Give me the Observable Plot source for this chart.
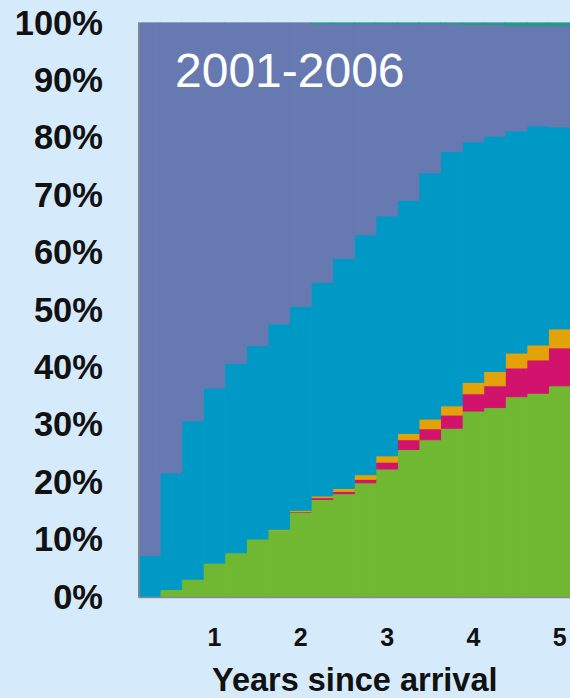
<!DOCTYPE html>
<html><head><meta charset="utf-8">
<script src="https://cdn.jsdelivr.net/npm/d3@7"></script>
<script src="https://cdn.jsdelivr.net/npm/@observablehq/plot@0.6"></script>
<style>
html,body{margin:0;padding:0;background:#d5eafb;}
#chart svg{display:block;}
</style></head><body><div id="chart"></div>
<script>
// Quarters since arrival (1..20); x tick labels in years
const quarters = [1,2,3,4,5,6,7,8,9,10,11,12,13,14,15,16,17,18,19,20];
const xTickQuarters = [4,8,12,16,20];
const xTickLabels = ["1","2","3","4","5"];
const yTicks = [0,10,20,30,40,50,60,70,80,90,100];

// Series values (% share), bottom to top
const seriesNames = ["Series 1","Series 2","Series 3","Series 4","Series 5","Series 6"];
const s1 = [0,1.3,3.1,5.9,7.7,10.1,11.7,14.8,17.0,18.0,19.9,22.3,25.7,27.4,29.4,32.4,33.0,34.9,35.5,36.8];
const s2 = [0,0,0,0,0,0,0,0.1,0.3,0.4,0.6,1.2,1.7,1.9,2.3,3.0,3.8,5.0,5.8,6.6];
const s3 = [0,0,0,0,0,0,0.1,0.2,0.3,0.5,0.8,1.1,1.1,1.7,1.6,2.0,2.5,2.6,2.6,3.3];
const s4 = [7.2,20.3,27.6,30.5,33.0,33.7,35.8,35.5,37.2,40.1,41.8,41.8,40.6,42.9,44.3,41.9,41.0,38.7,38.2,35.2];
const s5 = [92.8,78.4,69.3,63.6,59.3,56.2,52.4,49.4,45.1,40.9,36.8,33.5,30.8,26.0,22.3,20.5,19.5,18.4,17.5,17.7];
const s6 = [0,0,0,0,0,0,0,0,0.1,0.1,0.1,0.1,0.1,0.1,0.1,0.2,0.2,0.4,0.4,0.4];
const seriesColors = ["#70b832","#d2136e","#e3a208","#0099c6","#6679b1","#1c9e86"];
const title = "2001-2006";
const xLabel = "Years since arrival";

const seriesValues = [s1, s2, s3, s4, s5, s6];
const data = [];
seriesNames.forEach((s, k) => {
  seriesValues[k].forEach((v, i) => data.push({series: s, q: quarters[i], value: v}));
});

const font = "'Liberation Sans', Arial, sans-serif";
const chart = Plot.plot({
  width: 570,
  height: 698,
  marginLeft: 138.5,
  marginRight: 0,
  marginTop: 23,
  marginBottom: 101,
  style: {background: "#d5eafb", fontFamily: font, overflow: "visible"},
  x: {domain: [0, 20], axis: null},
  y: {domain: [0, 100], axis: null},
  color: {type: "ordinal", domain: seriesNames, range: seriesColors},
  marks: [
    Plot.ruleY([100], {stroke: "#8a8a8a", strokeWidth: 1.5}),
    Plot.rectY(data, {
      x1: d => d.q - 1, x2: d => d.q, y: "value",
      fill: "series", stroke: "series", strokeWidth: 1, z: "series", order: seriesNames
    }),
    Plot.ruleX([0], {stroke: "#8a8a8a", strokeWidth: 1.5}),
    Plot.ruleY([0], {stroke: "#8a8a8a", strokeWidth: 1.5}),
    Plot.axisY({ticks: yTicks, tickFormat: d => d + "%", tickSize: 0, tickPadding: 36,
      fontSize: 34.5, fontWeight: "bold", fill: "#111", label: null}),
    Plot.axisX({ticks: xTickQuarters.map(q => q - 0.5), tickFormat: (d, i) => xTickLabels[i],
      tickSize: 0, tickPadding: 31, fontSize: 25, fontWeight: "bold", fill: "#111", label: null}),
    Plot.text([xLabel], {frameAnchor: "bottom", lineAnchor: "top", dy: 70,
      fontSize: 32.5, fontWeight: "bold", fill: "#111"}),
    Plot.text([title], {frameAnchor: "top-left", textAnchor: "start", lineAnchor: "top",
      dx: 36, dy: 29, fontSize: 48, fill: "#ffffff"})
  ]
});
document.getElementById("chart").appendChild(chart);
</script></body></html>
